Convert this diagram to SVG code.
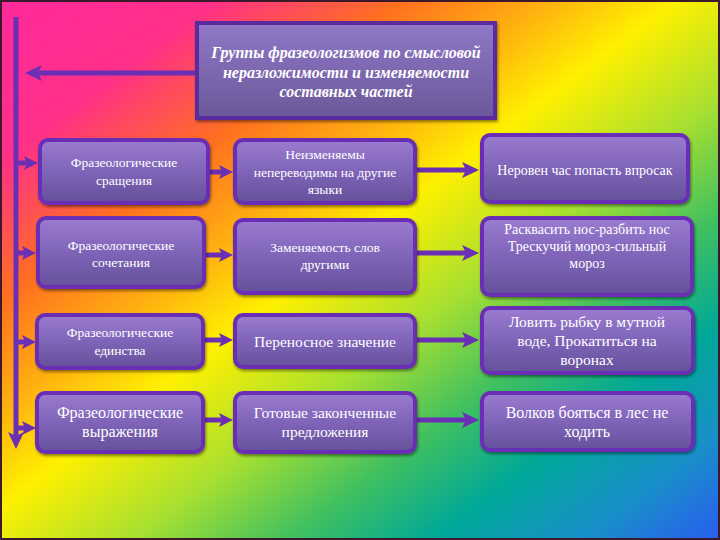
<svg xmlns="http://www.w3.org/2000/svg" width="720" height="540" viewBox="0 0 720 540">
<defs>
<linearGradient id="bg" x1="0" y1="0" x2="1" y2="1">
<stop offset="0" stop-color="#ff2a9c"/>
<stop offset="0.15" stop-color="#ff3088"/>
<stop offset="0.28" stop-color="#ff7020"/>
<stop offset="0.38" stop-color="#ffb010"/>
<stop offset="0.47" stop-color="#fff000"/>
<stop offset="0.59" stop-color="#a8e030"/>
<stop offset="0.70" stop-color="#40c060"/>
<stop offset="0.80" stop-color="#00a898"/>
<stop offset="0.90" stop-color="#1890c8"/>
<stop offset="1" stop-color="#2a5cf0"/>
</linearGradient>
<linearGradient id="box" x1="0" y1="0" x2="0" y2="1">
<stop offset="0" stop-color="#9a7bd0"/>
<stop offset="0.5" stop-color="#7f64b8"/>
<stop offset="1" stop-color="#65509a"/>
</linearGradient>
<linearGradient id="tbox" x1="0" y1="0" x2="0" y2="1">
<stop offset="0" stop-color="#9078c8"/>
<stop offset="1" stop-color="#6a5898"/>
</linearGradient>
<filter id="sh" x="-10%" y="-10%" width="125%" height="130%">
<feDropShadow dx="1" dy="2" stdDeviation="1.5" flood-color="#000" flood-opacity="0.45"/>
</filter>
<marker id="ah" markerUnits="userSpaceOnUse" markerWidth="18" markerHeight="18" refX="4" refY="9" orient="auto">
<path d="M0,1 L17,9 L0,17 L4,9 z" fill="#6a2fb5"/>
</marker>
<marker id="ahs" markerUnits="userSpaceOnUse" markerWidth="16" markerHeight="16" refX="3" refY="8" orient="auto">
<path d="M0,1 L14,8 L0,15 L3,8 z" fill="#6a2fb5"/>
</marker>
<style>
.node rect{fill:url(#box);stroke:#6a2fb5;stroke-width:4;filter:url(#sh)}
.t{font-family:"Liberation Serif","DejaVu Serif",serif;fill:#fff;text-anchor:middle}
.tt{font-size:16px;font-style:italic;font-weight:bold}
.c{fill:none;stroke:#6a2fb5;stroke-width:5}
</style>
</defs>
<rect x="0" y="0" width="720" height="540" fill="url(#bg)"/>
<rect x="1" y="1" width="718" height="538" fill="none" stroke="#3a1a2a" stroke-width="2"/>

<g id="connectors">
<path class="c" d="M16,17 V436" marker-end="url(#ah)"/>
<path class="c" d="M196,73 H38" marker-end="url(#ah)"/>
<path class="c" d="M16,163 H27" marker-end="url(#ahs)"/>
<path class="c" d="M16,253 H25" marker-end="url(#ahs)"/>
<path class="c" d="M16,342 H25" marker-end="url(#ahs)"/>
<path class="c" d="M16,428 H25" marker-end="url(#ahs)"/>
<path class="c" d="M208,172 H222" marker-end="url(#ahs)"/>
<path class="c" d="M204,255 H222" marker-end="url(#ahs)"/>
<path class="c" d="M203,340 H222" marker-end="url(#ahs)"/>
<path class="c" d="M203,420 H222" marker-end="url(#ahs)"/>
<path class="c" d="M415,170 H466" marker-end="url(#ah)"/>
<path class="c" d="M415,253 H466" marker-end="url(#ah)"/>
<path class="c" d="M415,340 H466" marker-end="url(#ah)"/>
<path class="c" d="M415,420 H466" marker-end="url(#ah)"/>
</g>

<g id="title">
<rect x="197" y="23" width="298" height="95" fill="url(#tbox)" stroke="#5a2a9e" stroke-width="4" filter="url(#sh)"/>
<text class="t tt" x="346" y="58">Группы фразеологизмов по смысловой</text>
<text class="t tt" x="346" y="78">неразложимости  и изменяемости</text>
<text class="t tt" x="346" y="97">составных частей</text>
</g>

<g id="n1a" class="node"><rect x="40" y="140" width="168" height="63" rx="8"/>
<text class="t" x="124" y="167" font-size="13.5">Фразеологические</text>
<text class="t" x="124" y="185" font-size="13.5">сращения</text></g>
<g id="n1b" class="node"><rect x="235" y="140" width="180" height="63" rx="8"/>
<text class="t" x="325" y="159" font-size="13.5">Неизменяемы</text>
<text class="t" x="325" y="177" font-size="13.5">непереводимы на другие</text>
<text class="t" x="325" y="194" font-size="13.5">языки</text></g>
<g id="n1c" class="node"><rect x="482" y="135" width="206" height="67" rx="8"/>
<text class="t" x="585" y="175" font-size="14">Неровен час попасть впросак</text></g>

<g id="n2a" class="node"><rect x="38" y="218" width="166" height="69" rx="8"/>
<text class="t" x="121" y="250" font-size="13.5">Фразеологические</text>
<text class="t" x="121" y="267" font-size="13.5">сочетания</text></g>
<g id="n2b" class="node"><rect x="235" y="220" width="180" height="73" rx="8"/>
<text class="t" x="325" y="252" font-size="13.5">Заменяемость слов</text>
<text class="t" x="325" y="269" font-size="13.5">другими</text></g>
<g id="n2c" class="node"><rect x="482" y="218" width="210" height="77" rx="8"/>
<text class="t" x="587" y="234" font-size="14">Расквасить нос-разбить нос</text>
<text class="t" x="587" y="251" font-size="14">Трескучий мороз-сильный</text>
<text class="t" x="587" y="268" font-size="14">мороз</text></g>

<g id="n3a" class="node"><rect x="37" y="315" width="166" height="53" rx="8"/>
<text class="t" x="120" y="337" font-size="13.5">Фразеологические</text>
<text class="t" x="120" y="355" font-size="13.5">единства</text></g>
<g id="n3b" class="node"><rect x="235" y="315" width="180" height="52" rx="8"/>
<text class="t" x="325" y="347" font-size="15.5">Переносное значение</text></g>
<g id="n3c" class="node"><rect x="482" y="308" width="211" height="65" rx="8"/>
<text class="t" x="587" y="327" font-size="15.5">Ловить рыбку в мутной</text>
<text class="t" x="587" y="346" font-size="15.5">воде, Прокатиться на</text>
<text class="t" x="587" y="365" font-size="15.5">воронах</text></g>

<g id="n4a" class="node"><rect x="37" y="393" width="166" height="59" rx="8"/>
<text class="t" x="120" y="418" font-size="16">Фразеологические</text>
<text class="t" x="120" y="437" font-size="16">выражения</text></g>
<g id="n4b" class="node"><rect x="235" y="393" width="180" height="59" rx="8"/>
<text class="t" x="325" y="418" font-size="15.5">Готовые законченные</text>
<text class="t" x="325" y="437" font-size="15.5">предложения</text></g>
<g id="n4c" class="node"><rect x="482" y="393" width="211" height="57" rx="8"/>
<text class="t" x="587" y="418" font-size="16">Волков бояться в лес не</text>
<text class="t" x="587" y="437" font-size="16">ходить</text></g>
</svg>
